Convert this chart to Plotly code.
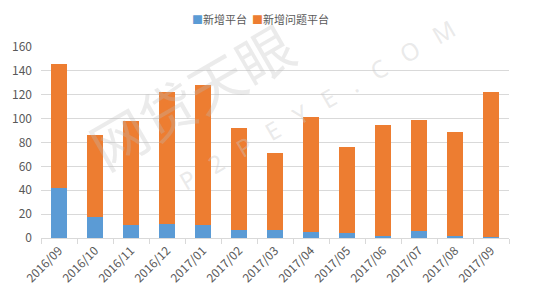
import plotly.graph_objects as go

months = ["2016/09", "2016/10", "2016/11", "2016/12", "2017/01", "2017/02", "2017/03",
          "2017/04", "2017/05", "2017/06", "2017/07", "2017/08", "2017/09"]
new_platforms = [42, 18, 11, 12, 11, 7, 7, 5, 4, 2, 6, 2, 1]
new_problem_platforms = [104, 68, 87, 110, 117, 85, 64, 96, 72, 93, 93, 87, 121]
y_ticks = [0, 20, 40, 60, 80, 100, 120, 140, 160]
series_names = ["新增平台", "新增问题平台"]
series_colors = ["#5b9bd5", "#ed7d31"]

font_family = "Noto Sans CJK SC, Noto Sans, sans-serif"
grey = "#595959"

fig = go.Figure()
fig.add_trace(go.Bar(x=months, y=new_platforms, name=series_names[0],
                     marker_color=series_colors[0], marker_line_width=0))
fig.add_trace(go.Bar(x=months, y=new_problem_platforms, name=series_names[1],
                     marker_color=series_colors[1], marker_line_width=0))

# faint watermark
fig.add_annotation(text="网贷天眼", xref="paper", yref="paper",
                   x=0.32, y=0.75, xanchor="center", yanchor="middle",
                   showarrow=False, textangle=-30,
                   font=dict(family=font_family, size=56, color="rgba(190,190,190,0.30)"))
fig.add_annotation(text="P   2   P   E   Y   E   .   C   O   M", xref="paper", yref="paper",
                   x=0.59, y=0.70, xanchor="center", yanchor="middle",
                   showarrow=False, textangle=-30,
                   font=dict(family="Noto Sans, sans-serif", size=24, color="rgba(200,200,200,0.40)"))

# compact legend (like the original)
legend_text = "  ".join(
    f'<span style="color:{c}">■</span>{n}' for n, c in zip(series_names, series_colors))
fig.add_annotation(text=legend_text, xref="paper", yref="paper", x=0.47, y=1.145,
                   xanchor="center", yanchor="middle", showarrow=False,
                   font=dict(family=font_family, size=11, color=grey))

fig.update_layout(
    width=553, height=307,
    barmode="stack", bargap=0.57,
    plot_bgcolor="white", paper_bgcolor="white",
    margin=dict(l=39, r=44, t=47, b=69),
    font=dict(family=font_family, color=grey, size=12),
    showlegend=False,
    xaxis=dict(type="category", tickangle=-45, showgrid=False, showline=True,
               linecolor="#d9d9d9", linewidth=1, ticks="outside", tickson="boundaries",
               ticklen=5, tickcolor="#d9d9d9", tickfont=dict(size=12, color=grey)),
    yaxis=dict(range=[0, 160], tickvals=y_ticks, showgrid=True, gridcolor="#d9d9d9",
               gridwidth=1, zeroline=False, showline=False, ticks="",
               tickfont=dict(size=12, color=grey), ticklabelstandoff=8),
)

fig.write_html("out.html")
